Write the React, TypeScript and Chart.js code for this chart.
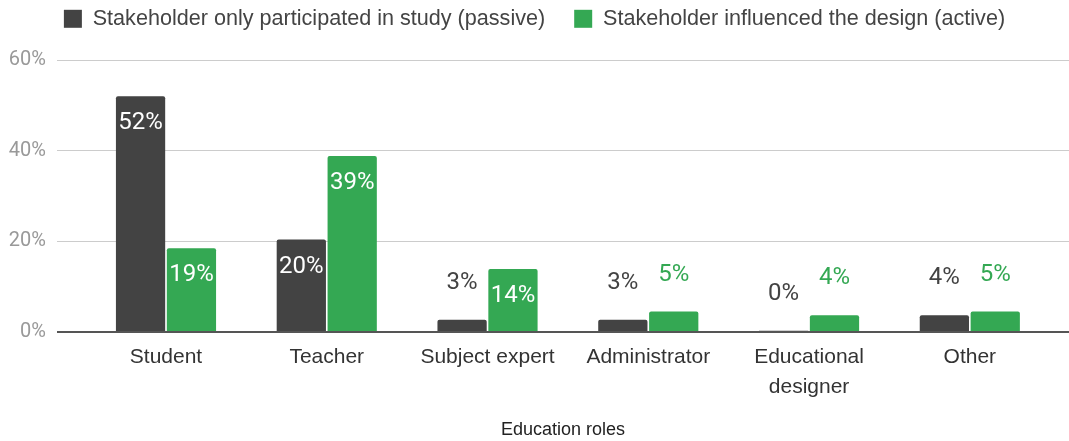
import React, { useEffect, useRef } from "react";
import { Chart, registerables } from "chart.js";

Chart.register(...registerables);

// ---- data ----
const categories: (string | string[])[] = [
  "Student",
  "Teacher",
  "Subject expert",
  "Administrator",
  ["Educational", "designer"],
  "Other",
];
const passiveValues = [52.0, 20.4, 2.7, 2.7, 0.3, 3.7];
const activeValues = [18.5, 38.8, 13.9, 4.5, 3.7, 4.5];
const seriesLabels = [
  "Stakeholder only participated in study (passive)",
  "Stakeholder influenced the design (active)",
];
const yTickValues = [0, 20, 40, 60];
const xAxisTitle = "Education roles";

// ---- styles ----
const seriesColors = ["#434343", "#34a853"];
const W = 1069;
const H = 441;
const LEGEND_H = 81;
const X_MIN = -0.678;
const X_MAX = 5.617;

const dataLabelPlugin = {
  id: "dataLabels",
  afterDatasetsDraw(chart: any) {
    const ctx = chart.ctx;
    ctx.save();
    ctx.font = "24px Roboto";
    ctx.textAlign = "center";
    ctx.textBaseline = "middle";
    chart.data.datasets.forEach((ds: any, di: number) => {
      const meta = chart.getDatasetMeta(di);
      meta.data.forEach((el: any, i: number) => {
        const v = ds.data[i].y;
        const txt = Math.round(v) + "%";
        const h = el.base - el.y;
        if (h >= 40) {
          ctx.fillStyle = "#ffffff";
          ctx.fillText(txt, el.x, el.y + 27);
        } else {
          ctx.fillStyle = seriesColors[di];
          ctx.fillText(txt, el.x, el.y - 37);
        }
      });
    });
    ctx.restore();
  },
};

const legendHeightPlugin = {
  id: "legendHeight",
  beforeLayout(chart: any) {
    const lg: any = chart.legend;
    if (lg && !lg._fixedH) {
      const orig = lg.fit;
      lg.fit = function () {
        orig.call(this);
        this.height = LEGEND_H;
      };
      lg._fixedH = true;
    }
  },
};

export default function App() {
  const ref = useRef<HTMLCanvasElement | null>(null);

  useEffect(() => {
    if (!ref.current) return;
    const chart = new Chart(ref.current, {
      type: "bar",
      data: {
        datasets: [
          {
            label: seriesLabels[0],
            data: passiveValues.map((v, i) => ({ x: i, y: v })),
            backgroundColor: seriesColors[0],
            borderWidth: 0,
            borderRadius: 2,
            borderSkipped: "start",
            categoryPercentage: 0.633,
            barPercentage: 0.968,
          },
          {
            label: seriesLabels[1],
            data: activeValues.map((v, i) => ({ x: i, y: v })),
            backgroundColor: seriesColors[1],
            borderWidth: 0,
            borderRadius: 2,
            borderSkipped: "start",
            categoryPercentage: 0.633,
            barPercentage: 0.968,
          },
        ],
      } as any,
      options: {
        responsive: false,
        animation: false,
        events: [],
        layout: { padding: { top: -21, left: 0, right: 0, bottom: 0 } },
        plugins: {
          tooltip: { enabled: false },
          legend: {
            display: true,
            position: "top",
            align: "center",
            labels: {
              font: { family: "'Liberation Sans', Arial, sans-serif", size: 21.6 },
              color: "#444444",
              boxWidth: 18,
              boxHeight: 18,
              padding: 29,
            },
          },
        },
        scales: {
          x: {
            type: "linear",
            min: X_MIN,
            max: X_MAX,
            offset: false,
            grid: { display: false, drawTicks: false },
            border: { display: false },
            afterBuildTicks: (s: any) => {
              s.ticks = categories.map((_, i) => ({ value: i }));
            },
            afterFit: (s: any) => {
              s.height = H - 332;
            },
            ticks: {
              autoSkip: false,
              maxRotation: 0,
              minRotation: 0,
              padding: 10,
              color: "#333333",
              font: { family: "'Liberation Sans', Arial, sans-serif", size: 21, lineHeight: 1.43 },
              callback: (v: any) => (categories[v as number] ?? "") as any,
            },
            title: {
              display: true,
              text: xAxisTitle,
              color: "#222222",
              font: { family: "'Liberation Sans', Arial, sans-serif", size: 18 },
              padding: 0,
            },
          } as any,
          y: {
            min: 0,
            max: 60,
            afterBuildTicks: (s: any) => {
              s.ticks = yTickValues.map((v) => ({ value: v }));
            },
            afterFit: (s: any) => {
              s.width = 57;
            },
            grid: {
              drawTicks: false,
              color: (c: any) => (c.tick && c.tick.value === 0 ? "#555555" : "#cccccc"),
              lineWidth: (c: any) => (c.tick && c.tick.value === 0 ? 2 : 1),
            },
            border: { display: false },
            ticks: {
              padding: 11,
              color: "#999999",
              font: { family: "Roboto, sans-serif", size: 20 },
              callback: (v: any) => v + "%",
            },
          } as any,
        },
      },
      plugins: [legendHeightPlugin, dataLabelPlugin],
    });
    return () => chart.destroy();
  }, []);

  return (
    <div style={{ position: "fixed", left: 0, top: 0, width: W, height: H, background: "#fff" }}>
      <canvas ref={ref} width={W} height={H} style={{ display: "block" }} />
    </div>
  );
}
